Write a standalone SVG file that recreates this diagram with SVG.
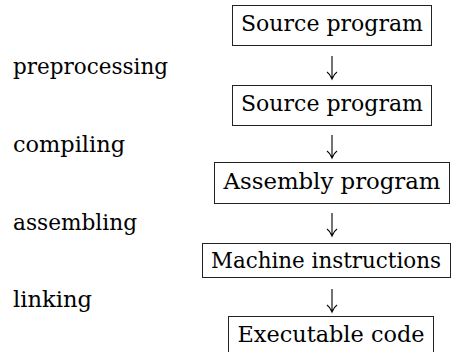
<svg xmlns="http://www.w3.org/2000/svg" width="452" height="352" viewBox="0 0 452 352">
<style>
text{font-family:'DejaVu Serif','Liberation Serif',serif;font-size:22px;fill:#000}
.box{fill:#fff;stroke:#222;stroke-width:1}
.lbl{text-anchor:start}
.ctr{text-anchor:middle}
.arr{fill:none;stroke:#000;stroke-width:1.1}
</style>
<g id="connectors">
<path class="arr" d="M332 56V78M327 72Q330 74 332 79Q334 74 337 72"/>
<path class="arr" d="M332 135V157M327 151Q330 153 332 158Q334 153 337 151"/>
<path class="arr" d="M332 213V235M327 229Q330 231 332 236Q334 231 337 229"/>
<path class="arr" d="M332 289V311M327 305Q330 307 332 312Q334 307 337 305"/>
</g>
<g id="label-preprocessing"><text class="lbl" x="13" y="74" textLength="155" lengthAdjust="spacingAndGlyphs">preprocessing</text></g>
<g id="label-compiling"><text class="lbl" x="13" y="152" textLength="112" lengthAdjust="spacingAndGlyphs">compiling</text></g>
<g id="label-assembling"><text class="lbl" x="13" y="230" textLength="124" lengthAdjust="spacingAndGlyphs">assembling</text></g>
<g id="label-linking"><text class="lbl" x="13" y="307" textLength="79" lengthAdjust="spacingAndGlyphs">linking</text></g>
<g id="node-source1"><rect class="box" x="232.5" y="5.5" width="199" height="40"/><text class="ctr" x="332" y="31" textLength="182" lengthAdjust="spacingAndGlyphs">Source program</text></g>
<g id="node-source2"><rect class="box" x="232.5" y="85.5" width="199" height="40"/><text class="ctr" x="332" y="111" textLength="182" lengthAdjust="spacingAndGlyphs">Source program</text></g>
<g id="node-assembly"><rect class="box" x="214.5" y="162.5" width="235" height="41"/><text class="ctr" x="332" y="189" textLength="217" lengthAdjust="spacingAndGlyphs">Assembly program</text></g>
<g id="node-machine"><rect class="box" x="202.5" y="243.5" width="248" height="34"/><text class="ctr" x="326" y="268" textLength="230" lengthAdjust="spacingAndGlyphs">Machine instructions</text></g>
<g id="node-executable"><rect class="box" x="228.5" y="316.5" width="205" height="40"/><text class="ctr" x="331" y="342" textLength="187" lengthAdjust="spacingAndGlyphs">Executable code</text></g>
</svg>
